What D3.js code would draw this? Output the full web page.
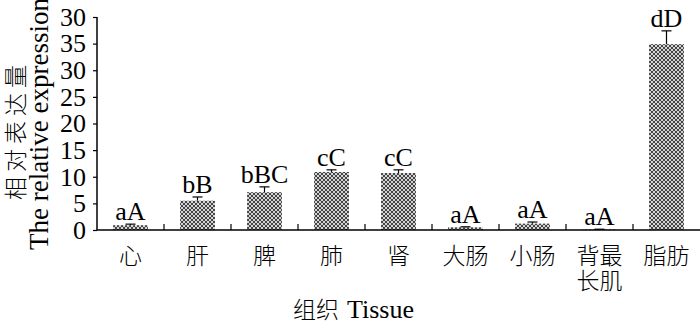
<!DOCTYPE html>
<html>
<head>
<meta charset="utf-8">
<script src="https://cdn.jsdelivr.net/npm/d3@7"></script>
<style>
  body { margin: 0; background: #fff; }
  svg { display: block; }
  text { font-family: "Liberation Serif", "Times New Roman", serif; fill: #000; }
  .cjk { font-family: "Noto Sans CJK SC", sans-serif; font-weight: 300; }
</style>
</head>
<body>
<div id="chart"></div>
<script>
// Tissue expression bar chart

const tissues = ['心', '肝', '脾', '肺', '肾', '大肠', '小肠', '背最长肌', '脂肪'];
const means = [0.9, 5.5, 7.1, 10.9, 10.7, 0.5, 1.2, 0.1, 34.9];
const errors = [0.2, 0.7, 1.0, 0.4, 0.6, 0.1, 0.3, 0.05, 2.5];
const groups = ['aA', 'bB', 'bBC', 'cC', 'cC', 'aA', 'aA', 'aA', 'dD'];
const yTicks = [0, 5, 10, 15, 20, 25, 30, 35, 40];
const yTickLabels = ['0', '5', '10', '15', '20', '25', '30', '35', '30'];

const W = 700, H = 328;
const margin = { top: 17, right: 0, bottom: 98, left: 97 };
const width = W - margin.left - margin.right;
const height = H - margin.top - margin.bottom;

const svgRoot = d3.select('#chart').append('svg')
    .attr('width', W)
    .attr('height', H);

// dotted fill for bars
const pat = svgRoot.append('defs').append('pattern')
    .attr('id', 'dots')
    .attr('patternUnits', 'userSpaceOnUse')
    .attr('width', 4)
    .attr('height', 4);
pat.append('rect').attr('width', 4).attr('height', 4).attr('fill', '#d4d4d4');
pat.append('rect').attr('x', 0).attr('y', 0).attr('width', 2).attr('height', 2).attr('fill', '#444');
pat.append('rect').attr('x', 2).attr('y', 2).attr('width', 2).attr('height', 2).attr('fill', '#444');

const svg = svgRoot.append('g')
    .attr('transform', `translate(${margin.left},${margin.top})`);

const x = d3.scaleBand()
    .domain(tissues)
    .range([0, width])
    .paddingInner(0)
    .paddingOuter(0);

const y = d3.scaleLinear()
    .domain([0, 40])
    .range([height, 0]);

// Bars
const barW = x.bandwidth() * 0.52;
svg.selectAll('.bar')
    .data(tissues)
    .enter()
    .append('rect')
    .attr('class', 'bar')
    .attr('x', d => x(d) + (x.bandwidth() - barW) / 2)
    .attr('y', (d, i) => y(means[i]))
    .attr('width', barW)
    .attr('height', (d, i) => height - y(means[i]))
    .attr('fill', 'url(#dots)');

// Error bars
const cap = 5;
const err = svg.selectAll('.err')
    .data(tissues)
    .enter()
    .append('g')
    .attr('class', 'err')
    .attr('stroke', '#000')
    .attr('stroke-width', 1.2);
err.append('line')
    .attr('x1', d => x(d) + x.bandwidth() / 2)
    .attr('x2', d => x(d) + x.bandwidth() / 2)
    .attr('y1', (d, i) => y(means[i]))
    .attr('y2', (d, i) => y(means[i] + errors[i]));
err.append('line')
    .attr('x1', d => x(d) + x.bandwidth() / 2 - cap)
    .attr('x2', d => x(d) + x.bandwidth() / 2 + cap)
    .attr('y1', (d, i) => y(means[i] + errors[i]))
    .attr('y2', (d, i) => y(means[i] + errors[i]));

// Significance letters
svg.selectAll('.sig')
    .data(tissues)
    .enter()
    .append('text')
    .attr('class', 'sig')
    .attr('text-anchor', 'middle')
    .attr('x', d => x(d) + x.bandwidth() / 2)
    .attr('y', (d, i) => y(means[i] + errors[i]) - 4)
    .style('font-size', '26px')
    .text((d, i) => groups[i]);

// Y axis
const yAxis = d3.axisLeft(y)
    .tickValues(yTicks)
    .tickSize(4)
    .tickFormat((d, i) => yTickLabels[i]);
const yG = svg.append('g').call(yAxis);
yG.select('.domain').attr('stroke-width', 1.5).attr('d', `M0,0V${height}`);
yG.selectAll('.tick line').attr('stroke-width', 1.2);
yG.selectAll('.tick text')
    .attr('x', -11)
    .style('font-size', '26px')
    .style('font-family', '"Liberation Serif", serif');

// X axis: ticks at band boundaries, pointing up
svg.append('line')
    .attr('x1', 0).attr('x2', width)
    .attr('y1', height).attr('y2', height)
    .attr('stroke', '#000')
    .attr('stroke-width', 1.5);
svg.selectAll('.xtick')
    .data(tissues.slice(1))
    .enter()
    .append('line')
    .attr('class', 'xtick')
    .attr('x1', d => x(d)).attr('x2', d => x(d))
    .attr('y1', height).attr('y2', height - 6)
    .attr('stroke', '#000')
    .attr('stroke-width', 1.2);

// X category labels (wrap to two characters per line)
svg.selectAll('.xlab')
    .data(tissues)
    .enter()
    .append('text')
    .attr('class', 'xlab cjk')
    .attr('text-anchor', 'middle')
    .attr('x', d => x(d) + x.bandwidth() / 2)
    .attr('y', height + 34)
    .style('font-size', '23px')
    .each(function(d) {
        const t = d3.select(this);
        const lines = d.length > 2 ? [d.slice(0, 2), d.slice(2)] : [d];
        lines.forEach((s, k) => {
            t.append('tspan')
                .attr('x', x(d) + x.bandwidth() / 2)
                .attr('dy', k === 0 ? 0 : 25)
                .text(s);
        });
    });

// X axis title
const xt = svg.append('text')
    .attr('x', 293 - margin.left)
    .attr('y', height + 88)
    .style('font-size', '26px');
xt.append('tspan').attr('class', 'cjk').style('font-size', '23px').text('组织');
xt.append('tspan').attr('dx', 8).text('Tissue');

// Y axis title (two lines)
svgRoot.append('text')
    .attr('class', 'cjk')
    .attr('text-anchor', 'middle')
    .attr('transform', 'translate(24,130) rotate(-90)')
    .style('font-size', '23px')
    .style('letter-spacing', '5px')
    .text('相对表达量');
svgRoot.append('text')
    .attr('text-anchor', 'middle')
    .attr('transform', 'translate(48,124) rotate(-90)')
    .style('font-size', '27px')
    .text('The relative expression');
</script>
</body>
</html>
